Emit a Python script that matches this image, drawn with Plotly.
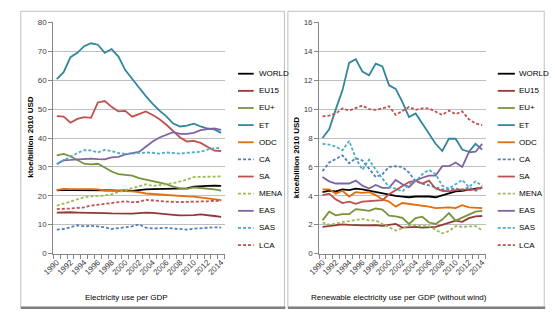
import plotly.graph_objects as go

years = list(range(1990, 2015))
tick_years = list(range(1990, 2015, 2))
series_names = ["WORLD", "EU15", "EU+", "ET", "ODC", "CA", "SA", "MENA", "EAS", "SAS", "LCA"]

# Left panel: Electricity use per GDP (ktoe/billion 2010 USD)
L_WORLD = [21.9,22.1,22.0,22.0,22.1,22.1,22.0,21.9,21.9,21.8,21.9,21.7,22.0,22.2,22.3,22.4,22.5,22.6,22.6,22.6,23.2,23.4,23.4,23.5,23.4]
L_EU15 = [14.2,14.3,14.3,14.2,14.2,14.1,14.1,14.0,13.9,13.8,13.7,13.8,14.0,14.2,14.1,13.8,13.6,13.4,13.2,13.2,13.3,13.6,13.2,13.0,12.7]
L_EUP = [34.0,34.5,33.7,32.3,31.1,30.9,31.1,29.8,28.4,27.5,27.2,27.0,26.1,25.6,25.1,24.4,24.0,23.2,22.6,22.4,22.9,22.7,22.5,22.2,21.8]
L_ET = [60.4,62.8,68.0,69.5,71.8,72.8,72.3,69.5,70.8,68.2,63.5,60.7,57.5,54.5,51.8,49.5,47.5,45.0,44.0,44.3,45.0,44.0,43.3,43.0,41.8]
L_ODC = [22.0,22.4,22.3,22.2,22.3,22.3,22.2,21.8,21.8,21.7,21.6,21.5,21.3,20.8,20.6,20.5,20.2,20.1,20.0,19.8,19.7,19.4,18.9,18.6,18.5]
L_CA = [8.3,8.5,9.1,9.8,9.4,9.6,9.4,9.1,8.5,8.9,9.1,9.4,10.1,9.0,8.7,8.8,8.9,8.7,8.5,8.3,8.6,8.8,9.0,9.1,9.0]
L_SA = [47.6,47.4,45.3,46.6,47.2,47.0,52.3,52.8,50.8,49.2,49.4,47.4,48.3,49.2,48.0,46.5,44.6,42.5,40.2,38.8,39.0,38.3,37.0,35.6,35.5]
L_MENA = [16.6,17.2,18.0,18.8,19.5,19.8,20.0,20.1,20.6,21.3,21.8,22.5,23.2,24.0,23.4,23.6,24.0,24.4,25.0,25.6,26.5,26.6,26.7,26.6,26.7]
L_EAS = [31.0,32.3,32.4,32.5,32.6,32.9,32.7,32.6,33.3,33.5,34.3,34.8,35.2,37.0,38.8,40.2,41.2,42.0,41.4,41.4,41.8,42.7,43.1,43.3,42.8]
L_SAS = [30.9,32.3,33.5,34.8,35.8,35.7,35.0,35.9,35.5,34.8,34.5,34.6,34.9,35.0,34.9,34.6,35.0,34.8,34.6,34.9,35.0,35.2,36.0,36.5,36.5]
L_LCA = [15.4,15.4,15.6,15.8,16.0,16.6,16.9,17.1,17.5,17.9,18.1,17.8,17.9,18.6,18.3,18.2,18.0,17.8,17.8,17.9,17.9,18.0,18.1,18.3,18.2]

# Right panel: Renewable electricity use per GDP (without wind)
R_WORLD = [4.25,4.35,4.3,4.45,4.4,4.5,4.45,4.35,4.25,4.15,4.1,4.0,3.95,3.9,3.95,3.97,3.95,3.9,4.05,4.2,4.3,4.35,4.45,4.5,4.55]
R_EU15 = [1.85,1.9,1.98,2.02,1.98,1.94,1.95,1.95,1.97,1.92,1.98,2.05,1.8,1.85,1.85,1.8,1.85,1.85,1.98,2.12,2.28,2.2,2.45,2.58,2.6]
R_EUP = [2.3,2.9,2.65,2.73,2.73,3.08,3.02,2.96,3.12,3.05,2.62,2.58,2.47,2.05,2.45,2.55,2.15,2.05,2.35,2.8,2.28,2.47,2.7,2.9,2.95]
R_ET = [8.0,8.6,10.0,11.3,13.2,13.45,12.6,12.35,13.15,12.95,11.65,11.4,10.5,9.45,9.7,9.0,8.3,7.6,7.1,7.95,7.95,7.2,7.05,7.6,7.2]
R_ODC = [4.45,4.45,4.15,4.35,3.95,4.25,4.2,4.25,4.05,3.75,3.6,3.25,3.5,3.45,3.35,3.3,3.25,3.15,3.2,3.2,3.15,3.35,3.2,3.15,3.15]
R_CA = [5.7,6.3,6.55,6.8,6.25,6.6,6.45,5.9,5.3,5.5,6.0,6.05,6.0,5.6,5.0,4.85,4.7,4.55,4.45,4.45,4.5,4.4,4.6,4.35,4.55]
R_SA = [4.05,4.15,3.75,3.5,3.6,3.45,3.6,3.65,3.65,3.7,4.1,4.4,4.65,4.95,5.05,4.85,5.05,4.5,4.35,4.3,4.4,4.45,4.4,4.45,4.6]
R_MENA = [2.15,2.0,2.07,2.2,2.25,2.35,2.4,2.3,2.3,2.05,1.8,1.6,1.75,1.95,1.95,1.9,1.9,1.65,1.4,1.55,1.9,1.85,1.9,1.9,1.6]
R_EAS = [5.3,5.0,4.85,4.85,4.85,5.05,4.7,4.5,4.75,4.55,4.55,5.1,4.8,4.6,5.05,5.25,5.4,5.4,6.05,6.05,6.3,6.0,7.0,7.05,7.6]
R_SAS = [7.6,7.55,7.4,7.15,7.8,6.6,5.8,6.5,5.8,5.2,4.6,4.5,4.3,4.8,5.0,5.5,5.8,5.5,4.7,4.5,4.8,5.1,4.6,5.0,4.7]
R_LCA = [9.5,9.55,9.7,10.05,9.9,10.1,10.25,10.0,9.95,10.05,10.2,9.6,9.9,10.15,9.95,10.05,10.05,9.8,9.6,9.9,9.65,9.85,9.3,9.0,8.9]

left_values = [L_WORLD, L_EU15, L_EUP, L_ET, L_ODC, L_CA, L_SA, L_MENA, L_EAS, L_SAS, L_LCA]
right_values = [R_WORLD, R_EU15, R_EUP, R_ET, R_ODC, R_CA, R_SA, R_MENA, R_EAS, R_SAS, R_LCA]

colors = ["#000000", "#953735", "#77933C", "#31859C", "#E46C0A", "#4F81BD",
          "#C0504D", "#9BBB59", "#8064A2", "#4BACC6", "#C0504D"]
dashes = ["solid", "solid", "solid", "solid", "solid", "3px,2px",
          "solid", "3px,2px", "solid", "3px,2px", "3px,2px"]

FONT = "Liberation Sans Narrow, Arial Narrow, Liberation Sans, Arial, sans-serif"
W, H = 555, 324

fig = go.Figure()
for name, vals, c, d in zip(series_names, left_values, colors, dashes):
    fig.add_trace(go.Scatter(x=years, y=vals, name=name, mode="lines",
                             line=dict(color=c, width=1.8, dash=d),
                             xaxis="x", yaxis="y", showlegend=False))
for name, vals, c, d in zip(series_names, right_values, colors, dashes):
    fig.add_trace(go.Scatter(x=years, y=vals, name=name, mode="lines",
                             line=dict(color=c, width=1.8, dash=d),
                             xaxis="x2", yaxis="y2", showlegend=False))

def px_x(p):
    return p / W

def px_y(p):
    return 1 - p / H

xcommon = dict(range=[1989.5, 2014.5], tickvals=tick_years, ticktext=[str(y) for y in tick_years],
               tickangle=-45, ticks="", showgrid=False, showline=True, linecolor="#868686",
               linewidth=1, tickfont=dict(family=FONT, size=8, color="#404040"), zeroline=False,
               minor=dict(tickvals=[1989.5 + k for k in range(26)], ticks="outside",
                          ticklen=4, tickcolor="#868686", showgrid=False))
ycommon = dict(showgrid=True, gridcolor="#BFBFBF", gridwidth=1, showline=True,
               linecolor="#868686", linewidth=1, ticks="outside", ticklen=4,
               tickcolor="#868686", tickfont=dict(family=FONT, size=8, color="#404040"),
               zeroline=False)

fig.update_layout(
    width=W, height=H, margin=dict(l=0, r=0, t=0, b=0),
    paper_bgcolor="white", plot_bgcolor="white", showlegend=False,
    xaxis=dict(domain=[px_x(43.3), px_x(218.3)], anchor="y", **xcommon),
    yaxis=dict(domain=[px_y(256.7), px_y(19)], anchor="x", range=[0, 80], dtick=10, **ycommon),
    xaxis2=dict(domain=[px_x(315), px_x(485)], anchor="y2", **xcommon),
    yaxis2=dict(domain=[px_y(256.7), px_y(19)], anchor="x2", range=[0, 16], dtick=2, **ycommon),
)

# legends (drawn as keys + labels beside each panel)
for lx0, lx1, tx in [(232, 248, 251), (497.5, 515, 517)]:
    for i, (name, c, d) in enumerate(zip(series_names, colors, dashes)):
        yy = 71.7 + 17.63 * i
        fig.add_shape(type="line", xref="paper", yref="paper", x0=px_x(lx0), x1=px_x(lx1),
                      y0=px_y(yy), y1=px_y(yy), line=dict(color=c, width=1.8, dash=d))
        fig.add_annotation(text=name, x=px_x(tx), y=px_y(yy), xref="paper", yref="paper",
                           xanchor="left", yanchor="middle", showarrow=False,
                           font=dict(family=FONT, size=8, color="#000000"))

# axis titles
fig.add_annotation(text="<b>ktoe/billion 2010 USD</b>", x=px_x(20), y=px_y(137), xref="paper", yref="paper",
                   xanchor="center", yanchor="middle",
                   textangle=-90, showarrow=False, font=dict(family=FONT, size=8, color="#000000"))
fig.add_annotation(text="<b>ktoe/billion 2010 USD</b>", x=px_x(292), y=px_y(158), xref="paper", yref="paper",
                   xanchor="center", yanchor="middle",
                   textangle=-90, showarrow=False, font=dict(family=FONT, size=8, color="#000000"))
fig.add_annotation(text="Electricity use per GDP", x=px_x(118), y=px_y(301.5), xref="paper", yref="paper",
                   xanchor="center", yanchor="middle",
                   showarrow=False, font=dict(family=FONT, size=8, color="#000000"))
fig.add_annotation(text="Renewable electricity use per GDP (without wind)", x=px_x(397), y=px_y(301.5),
                   xref="paper", yref="paper", xanchor="center", yanchor="middle", showarrow=False,
                   font=dict(family=FONT, size=8, color="#000000"))

# panel frames
for x0, x1 in [(10, 279.5), (283, 545)]:
    fig.add_shape(type="rect", xref="paper", yref="paper", x0=px_x(x0), x1=px_x(x1),
                  y0=px_y(312), y1=px_y(7.5), line=dict(color="#BFBFBF", width=1))
    fig.add_shape(type="line", xref="paper", yref="paper", x0=px_x(x0), x1=px_x(x1 + 1),
                  y0=px_y(312.5), y1=px_y(312.5), line=dict(color="#808080", width=2.5))

fig.write_html("out.html", config={"displayModeBar": False},
               post_script="document.body.style.margin='0';document.body.style.padding='0';"
                           "document.documentElement.style.overflow='hidden';")
